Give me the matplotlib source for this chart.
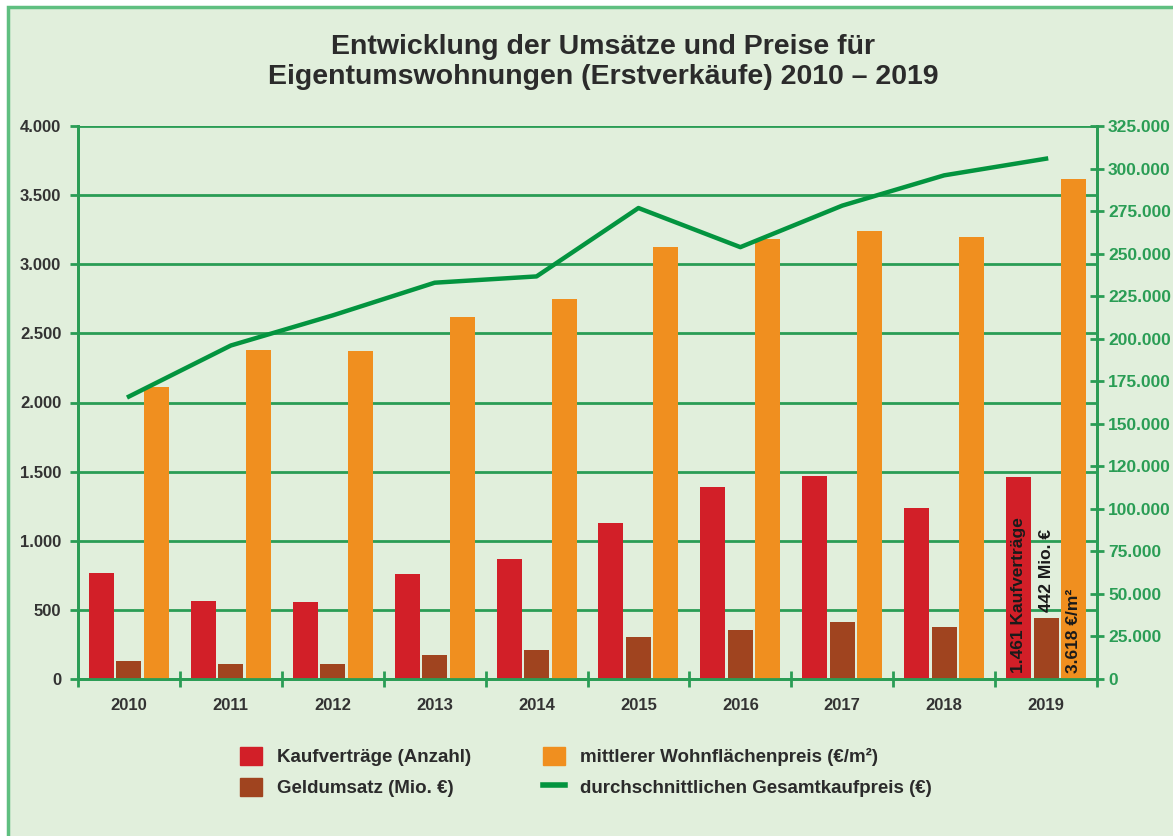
import numpy as np
import matplotlib
matplotlib.use("Agg")
import matplotlib.pyplot as plt
from matplotlib.patches import Rectangle, Patch
from matplotlib.lines import Line2D

plt.rcParams["font.family"] = ["Liberation Sans", "DejaVu Sans"]

YEARS = ["2010", "2011", "2012", "2013", "2014", "2015", "2016", "2017", "2018", "2019"]
KAUFVERTRAEGE = [764, 565, 557, 760, 869, 1129, 1387, 1467, 1238, 1461]
GELDUMSATZ = [130, 111, 111, 171, 207, 301, 355, 413, 376, 442]
WOHNFLAECHENPREIS = [2109, 2381, 2371, 2617, 2748, 3124, 3182, 3240, 3194, 3618]
GESAMTKAUFPREIS = [166000, 196000, 213700, 232900, 236600, 276800, 253800, 278200, 296000, 305800]

LEFT_TICKS = [0, 500, 1000, 1500, 2000, 2500, 3000, 3500, 4000]
LEFT_LABELS = ["0", "500", "1.000", "1.500", "2.000", "2.500", "3.000", "3.500", "4.000"]
RIGHT_TICKS = [0, 25000, 50000, 75000, 100000, 125000, 150000, 175000,
               200000, 225000, 250000, 275000, 300000, 325000]
RIGHT_LABELS = ["0", "25.000", "50.000", "75.000", "100.000", "120.000", "150.000",
                "175.000", "200.000", "225.000", "250.000", "275.000", "300.000", "325.000"]

BG = "#e1efdc"
GREEN = "#2a9d55"
LINE_GREEN = "#03943f"
RED = "#d21f28"
BROWN = "#a0441f"
ORANGE = "#f08f1f"

fig = plt.figure(figsize=(11.73, 8.36), dpi=100, facecolor="white")
fig.patches.append(Rectangle((8 / 1173, -0.1), 1.2, 1 - 7 / 836 + 0.1,
                             transform=fig.transFigure, facecolor=BG,
                             edgecolor="#5fbf80", linewidth=2.5, zorder=-5))

ax = fig.add_axes([78 / 1173, 1 - 679 / 836, 1019 / 1173, 553 / 836])
ax.set_facecolor(BG)
ax2 = ax.twinx()

x = np.arange(len(YEARS))
w = 0.245
off = 0.27
ax.bar(x - off, KAUFVERTRAEGE, w, color=RED, zorder=3)
ax.bar(x, GELDUMSATZ, w, color=BROWN, zorder=3)
ax.bar(x + off, WOHNFLAECHENPREIS, w, color=ORANGE, zorder=3)
ax2.plot(x, GESAMTKAUFPREIS, color=LINE_GREEN, lw=3.2, zorder=4)

ax.set_xlim(-0.5, len(YEARS) - 0.5)
ax.set_ylim(0, 4000)
ax2.set_ylim(0, 325000)

ax.set_yticks(LEFT_TICKS)
ax.set_yticklabels(LEFT_LABELS, fontsize=12, fontweight="bold", color="#333333")
ax.yaxis.grid(True, color=GREEN, lw=2, zorder=1)
ax.tick_params(axis="y", direction="out", length=6, width=2, color=GREEN, pad=6)

ax2.set_yticks(RIGHT_TICKS)
ax2.set_yticklabels(RIGHT_LABELS, fontsize=12.5, fontweight="bold", color=GREEN)
ax2.tick_params(axis="y", direction="inout", length=10, width=2, color=GREEN, pad=3)

ax.set_xticks(x)
ax.set_xticklabels(YEARS, fontsize=12, fontweight="bold", color="#333333")
ax.tick_params(axis="x", length=0, pad=14)
ax.set_xticks(np.arange(len(YEARS) + 1) - 0.5, minor=True)
ax.tick_params(axis="x", which="minor", direction="inout", length=12, width=2, color=GREEN)

for a in (ax, ax2):
    a.spines["top"].set_visible(False)
    for s in ("left", "right", "bottom"):
        a.spines[s].set_color(GREEN)
        a.spines[s].set_linewidth(2)
ax.set_zorder(ax2.get_zorder() - 1)
ax2.patch.set_visible(False)
ax.set_axisbelow(True)

# annotations for 2019
i = len(YEARS) - 1
ax.text(x[i] - off, 40, "1.461 Kaufverträge", rotation=90, ha="center", va="bottom",
        fontsize=12.5, fontweight="bold", color="#1a1a1a", zorder=5)
ax.text(x[i], GELDUMSATZ[i] + 45, "442 Mio. €", rotation=90, ha="center", va="bottom",
        fontsize=12.5, fontweight="bold", color="#1a1a1a", zorder=5)
ax.text(x[i] + off, 40, "3.618 €/m²", rotation=90, ha="center", va="bottom",
        fontsize=12.5, fontweight="bold", color="#1a1a1a", zorder=5)

fig.text(603 / 1173, 1 - 62 / 836, "Entwicklung der Umsätze und Preise für\n"
         "Eigentumswohnungen (Erstverkäufe) 2010 – 2019",
         ha="center", va="center", fontsize=20.5, fontweight="bold", color="#2b2b2b",
         linespacing=1.15)

handles = [Patch(color=RED), Patch(color=BROWN), Patch(color=ORANGE),
           Line2D([], [], color=LINE_GREEN, lw=4)]
labels = ["Kaufverträge (Anzahl)", "Geldumsatz (Mio. €)",
          "mittlerer Wohnflächenpreis (€/m²)", "durchschnittlichen Gesamtkaufpreis (€)"]
fig.legend(handles, labels, ncol=2, loc="center left",
           bbox_to_anchor=(223 / 1173, 1 - 772 / 836), frameon=False,
           prop={"size": 13.5, "weight": "bold"}, labelcolor="#2b2b2b",
           handlelength=1.2, handleheight=1.1, handletextpad=0.8,
           columnspacing=3.8, labelspacing=0.6)

fig.savefig("out.png", dpi=100, facecolor="white")
